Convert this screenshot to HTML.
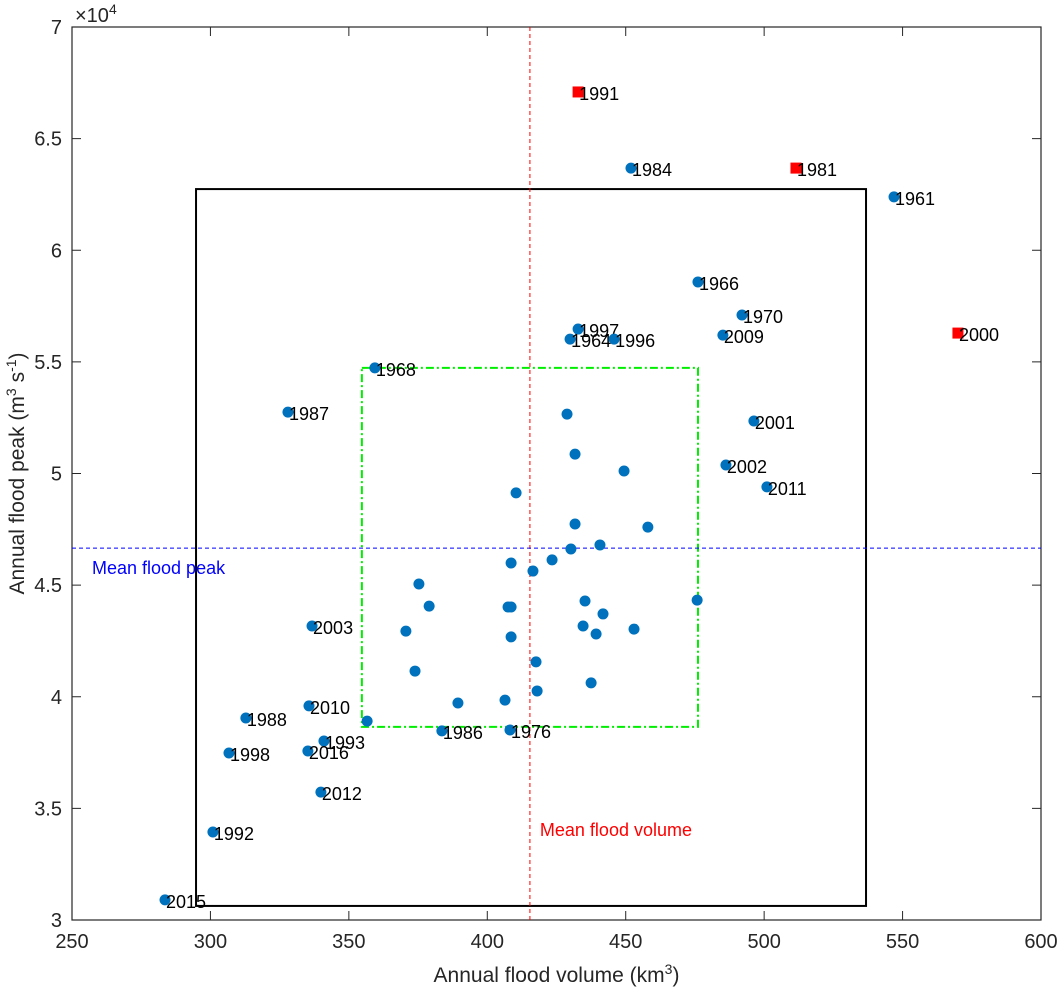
<!DOCTYPE html>
<html><head><meta charset="utf-8"><style>
html,body{margin:0;padding:0;background:#fff;}
svg{display:block;font-family:"Liberation Sans",Arial,sans-serif;}
</style></head><body>
<svg id="chart" width="1059" height="989" viewBox="0 0 1059 989" xmlns="http://www.w3.org/2000/svg"></svg>
<script>
const xTicks=[250,300,350,400,450,500,550,600];
const yTicks=[3,3.5,4,4.5,5,5.5,6,6.5,7];
const labeledYears=["1991","1984","1981","1961","1966","1970","1997","1964","1996","2009","2000","1968","1987","2001","2002","2011","2003","2010","1988","1993","1998","2016","2012","1992","2015","1986","1976"];
const labeledVol=[432.8,451.9,511.5,546.9,476.1,492.0,432.8,429.9,445.8,485.1,570.0,359.4,328.0,496.3,486.2,501.0,336.7,335.6,312.8,341.0,306.7,335.2,339.9,300.9,283.6,383.6,408.2];
const labeledPeak=[67090,63680,63680,62390,58580,57100,56470,56020,56020,56200,56290,54730,52750,52350,50380,49400,43170,39590,39050,38020,37480,37570,35730,33940,30900,38470,38510];
const labeledRed=[1,0,1,0,0,0,0,0,0,0,1,0,0,0,0,0,0,0,0,0,0,0,0,0,0,0,0];
const otherVol=[431.7,449.4,410.4,431.7,458.0,430.2,440.7,423.4,408.6,416.5,375.3,379.0,407.5,408.6,435.3,475.8,441.8,370.6,434.6,439.3,453.0,408.6,373.9,417.6,437.5,418.0,389.4,406.4,356.6,428.8];
const otherPeak=[50870,50110,49130,47740,47600,46620,46800,46130,45990,45630,45050,44060,44020,44020,44290,44330,43710,42940,43170,42810,43030,42680,41150,41560,40620,40260,39720,39850,38910,52660];
const meanVolume=415.4, meanPeak=46660;
const outerBox=[294.8,536.8,30630,62740];
const innerBox=[354.7,476.1,38650,54730];

const L=72,R=1041,T=27,B=920;
const sx=v=>L+(v-250)/350*(R-L);
const sy=v=>B-(v/1e4-3)/4*(B-T);
const svg=document.getElementById('chart');
const NS='http://www.w3.org/2000/svg';
function mk(tag,attrs,parent){const e=document.createElementNS(NS,tag);for(const k in attrs)e.setAttribute(k,attrs[k]);(parent||svg).appendChild(e);return e;}

let ax=mk('rect',{x:L,y:T,width:R-L,height:B-T,fill:'none',stroke:'#262626','stroke-width':1.2});


xTicks.forEach(t=>{
  const x=sx(t);
  mk('line',{x1:x,x2:x,y1:B,y2:B-9,stroke:'#262626'});
  mk('line',{x1:x,x2:x,y1:T,y2:T+9,stroke:'#262626'});
  const tx=mk('text',{x:x,y:B+28,'font-size':20,'text-anchor':'middle',fill:'#262626'});
  tx.textContent=t;
  
  
});
yTicks.forEach(t=>{
  const y=sy(t*1e4);
  mk('line',{x1:L,x2:L+9,y1:y,y2:y,stroke:'#262626'});
  mk('line',{x1:R,x2:R-9,y1:y,y2:y,stroke:'#262626'});
  const tx=mk('text',{x:L-10,y:y+7,'font-size':20,'text-anchor':'end',fill:'#262626'});
  tx.textContent=t;
  
  
});
const ex=mk('text',{x:75,y:22,'font-size':20,fill:'#262626'});
ex.innerHTML='×10<tspan dy="-8" font-size="14">4</tspan>';


const xl=mk('text',{x:(L+R)/2,y:982,'font-size':21,'text-anchor':'middle',fill:'#262626'});
xl.innerHTML='Annual flood volume (km<tspan dy="-8" font-size="14">3</tspan><tspan dy="8">)</tspan>';


const yl=mk('text',{transform:'translate(24,'+(T+B)/2+') rotate(-90)','font-size':21,'text-anchor':'middle',fill:'#262626'});
yl.innerHTML='Annual flood peak (m<tspan dy="-8" font-size="14">3</tspan><tspan dy="8"> s</tspan><tspan dy="-8" font-size="14">-1</tspan><tspan dy="8">)</tspan>';



const ob=mk('rect',{x:sx(outerBox[0]),y:sy(outerBox[3]),width:sx(outerBox[1])-sx(outerBox[0]),height:sy(outerBox[2])-sy(outerBox[3]),fill:'none',stroke:'#000','stroke-width':2});


const ib=mk('rect',{x:sx(innerBox[0]),y:sy(innerBox[3]),width:sx(innerBox[1])-sx(innerBox[0]),height:sy(innerBox[2])-sy(innerBox[3]),fill:'none',stroke:'#00ee00','stroke-width':2,'stroke-dasharray':'8 3 2 3'});



const mv=mk('line',{x1:sx(meanVolume),x2:sx(meanVolume),y1:T,y2:B,stroke:'#ff0000','stroke-width':1,'stroke-dasharray':'4 3'});


const mp=mk('line',{x1:L,x2:R,y1:sy(meanPeak),y2:sy(meanPeak),stroke:'#0000ff','stroke-width':1,'stroke-dasharray':'4 3'});


const mvt=mk('text',{x:sx(meanVolume)+10,y:836,'font-size':18,fill:'#ff0000'});
mvt.textContent='Mean flood volume';


const mpt=mk('text',{x:92,y:574,'font-size':18,fill:'#0000ff'});
mpt.textContent='Mean flood peak';



otherVol.forEach((v,i)=>{
  const c=mk('circle',{cx:sx(v),cy:sy(otherPeak[i]),r:5.5,fill:'#0072bd'});
  
  
});
labeledVol.forEach((v,i)=>{
  const x=sx(v),y=sy(labeledPeak[i]);
  let m;
  if(labeledRed[i]){m=mk('rect',{x:x-5.5,y:y-5.5,width:11,height:11,fill:'#ff0000'});}
  else{m=mk('circle',{cx:x,cy:y,r:5.5,fill:'#0072bd'});}
  
  
  const t=mk('text',{x:x+1,y:y+8,'font-size':18,fill:'#000'});
  t.textContent=labeledYears[i];
  
  
});
</script>
</body></html>
